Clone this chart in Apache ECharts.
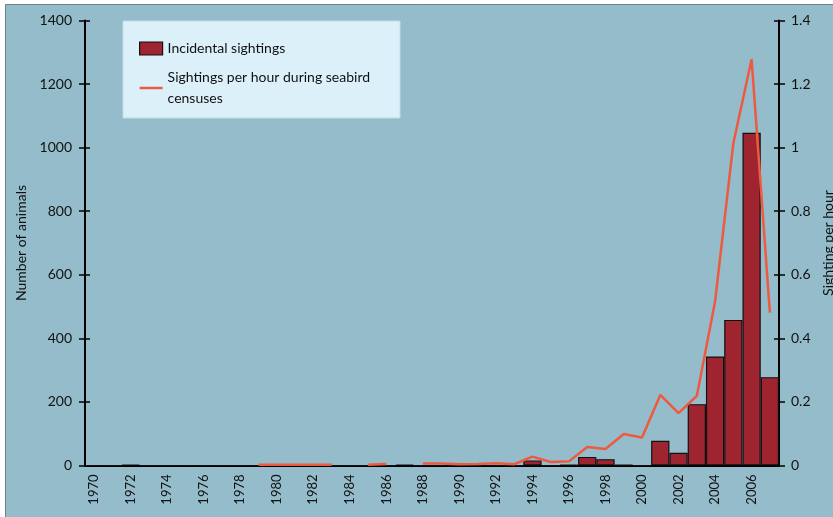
<!DOCTYPE html>
<html>
<head>
<meta charset="utf-8">
<script src="https://cdn.jsdelivr.net/npm/echarts@6/dist/echarts.min.js"></script>
<style>
html,body{margin:0;padding:0;background:#fff;}
#c{width:833px;height:517px;}
</style>
</head>
<body>
<div id="c"></div>
<script>
const years = [];
for (let y = 1970; y <= 2007; y++) years.push(String(y));

const incidentalSightings = [
  0, 0, 3, 0, 0, 0, 0, 0, 0, 0,      // 1970-1979
  0, 0, 0, 0, 0, 0, 0, 3, 0, 0,      // 1980-1989
  0, 0, 0, 0, 16, 0, 2, 27, 20, 2,   // 1990-1999
  0, 78, 40, 193, 343, 458, 1047, 278 // 2000-2007
];

const sightingsPerHour = [
  null, null, null, null, null, null, null, null, null, 0.002,   // 1970-1979
  0.002, 0.002, 0.002, 0.002, null, 0.002, 0.005, null, 0.006, 0.006, // 1980-1989
  0.004, 0.005, 0.007, 0.004, 0.028, 0.011, 0.013, 0.058, 0.052, 0.099, // 1990-1999
  0.088, 0.222, 0.165, 0.219, 0.516, 1.014, 1.278, 0.481          // 2000-2007
];

const leftTicks = [0, 200, 400, 600, 800, 1000, 1200, 1400];
const rightTicks = [0, 0.2, 0.4, 0.6, 0.8, 1, 1.2, 1.4];

const FONT = 'Lato';
const chart = echarts.init(document.getElementById('c'), null, {renderer: 'canvas'});

const baseY = {
  type: 'value', min: 0, max: leftTicks[leftTicks.length - 1], interval: 200,
  splitLine: {show: false}
};

chart.setOption({
  backgroundColor: '#ffffff',
  animation: false,
  textStyle: {fontFamily: FONT},
  graphic: [
    {type: 'rect', z: -10, shape: {x: 5.5, y: 4.5, width: 840, height: 520},
     style: {fill: '#94bccb', stroke: '#6f7f86', lineWidth: 1}},
    {type: 'rect', z: -5, shape: {x: 123, y: 21, width: 277, height: 97},
     style: {fill: '#dcf0fa', stroke: '#c5dbe6', lineWidth: 1}}
  ],
  legend: {
    orient: 'vertical', left: 134, top: 33, itemGap: 8,
    itemWidth: 23, itemHeight: 13,
    textStyle: {fontFamily: FONT, fontSize: 14, color: '#111', lineHeight: 21},
    data: [
      {name: 'Incidental sightings', icon: 'rect',
       itemStyle: {borderColor: '#111', borderWidth: 1.2}},
      {name: 'Sightings per hour during seabird\ncensuses', icon: 'path://M0,0H23V2.5H0Z',
       itemStyle: {color: '#ee5a3f', borderWidth: 0}}
    ]
  },
  grid: {left: 85, right: 54, top: 20.5, bottom: 51.5, outerBoundsMode: 'none', containLabel: false},
  xAxis: {
    type: 'category', data: years, boundaryGap: true,
    axisLine: {lineStyle: {color: '#000', width: 2}},
    axisTick: {interval: 0, length: 6, lineStyle: {color: '#000', width: 1.5}},
    axisLabel: {interval: 1, rotate: 90, fontSize: 13, color: '#111', margin: 9, fontFamily: FONT},
    splitLine: {show: false}
  },
  yAxis: [
    Object.assign({}, baseY, {
      position: 'left', name: 'Number of animals', nameLocation: 'middle', nameGap: 57,
      nameTextStyle: {fontSize: 14, color: '#111', fontFamily: FONT},
      axisLine: {show: true, lineStyle: {color: '#000', width: 2}},
      axisTick: {show: true, length: 6, lineStyle: {color: '#000', width: 1.5}},
      axisLabel: {fontSize: 14, color: '#111', margin: 13, fontFamily: FONT,
        formatter: v => String(v)}
    }),
    {
      type: 'value', min: 0, max: rightTicks[rightTicks.length - 1], interval: 0.2,
      position: 'right', name: 'Sighting per hour', nameLocation: 'middle', nameGap: 42, nameRotate: 90,
      nameTextStyle: {fontSize: 14, color: '#111', fontFamily: FONT},
      splitLine: {show: false},
      axisLine: {show: true, lineStyle: {color: '#000', width: 2}},
      axisTick: {show: true, length: 6, lineStyle: {color: '#000', width: 1.5}},
      axisLabel: {fontSize: 14, color: '#111', margin: 12, fontFamily: FONT,
        formatter: v => String(Math.round(v * 10) / 10)}
    },
    Object.assign({}, baseY, {
      position: 'left', axisLine: {show: false},
      axisTick: {show: true, inside: true, length: 5, lineStyle: {color: '#000', width: 1.5}},
      axisLabel: {show: false}
    }),
    {
      type: 'value', min: 0, max: 1.4, interval: 0.2, position: 'right',
      splitLine: {show: false}, axisLine: {show: false},
      axisTick: {show: true, inside: true, length: 5, lineStyle: {color: '#000', width: 1.5}},
      axisLabel: {show: false}
    }
  ],
  series: [
    {
      name: 'Incidental sightings', type: 'bar', yAxisIndex: 0,
      data: incidentalSightings, barCategoryGap: '0%',
      itemStyle: {color: '#9e2530', borderColor: '#111', borderWidth: 1.2}
    },
    {
      name: 'Sightings per hour during seabird\ncensuses', type: 'line', yAxisIndex: 1,
      data: sightingsPerHour, symbol: 'none', connectNulls: false, z: 3,
      lineStyle: {color: '#ee5a3f', width: 2.5},
      itemStyle: {color: '#ee5a3f'}
    }
  ]
});
</script>
</body>
</html>
